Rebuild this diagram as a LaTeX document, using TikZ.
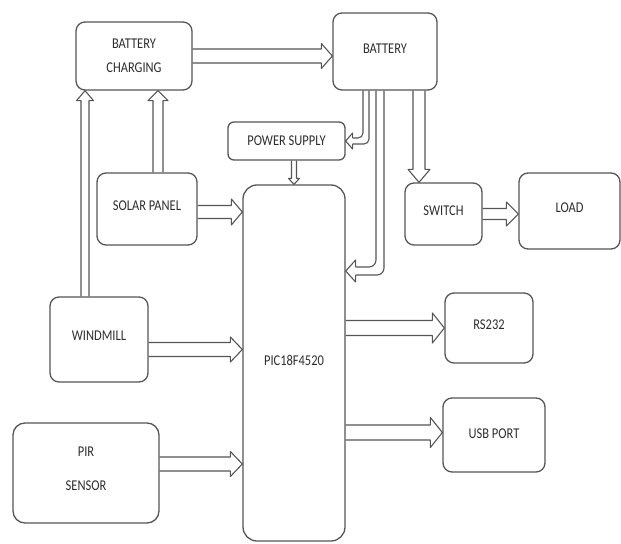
\documentclass[tikz,border=0pt]{standalone}
\usepackage{fontspec}
\setmainfont{Carlito}
\usepackage{graphicx}
\usetikzlibrary{calc}
\definecolor{linegray}{HTML}{555555}
\definecolor{textgray}{HTML}{2E2E2E}
\newcommand{\vs}[2][6bp]{\raisebox{#1}{\scalebox{1}[1.2]{#2}}}
\begin{document}
\begin{tikzpicture}[x=1bp,y=-1bp,
  box/.style={draw=linegray, line width=1.3bp, rounded corners=9bp, inner sep=0pt,
    font=\fontsize{12.5}{15}\selectfont, text=textgray, align=center},
  arr/.style={draw=linegray, line width=1.1bp, line join=round},
  shaftw/.store in=\shaftw, headw/.store in=\headw, headl/.store in=\headl,
  shaftw=5bp, headw=10bp, headl=10bp,
  blk/.style={arr, to path={{let \p1=(\tikztostart), \p2=(\tikztotarget),
      \n1={atan2(\y2-\y1,\x2-\x1)}, \n2={veclen(\x2-\x1,\y2-\y1)} in
      [shift={(\p1)}, rotate=\n1]
      (0pt,\shaftw) -- ({\n2*1pt-\headl},\shaftw) -- ({\n2*1pt-\headl},\headw)
      -- ({\n2*1pt},0pt) -- ({\n2*1pt-\headl},-\headw) -- ({\n2*1pt-\headl},-\shaftw)
      -- (0pt,-\shaftw)}}},
]
\useasboundingbox (0,0) rectangle (621,544);
\node[box, minimum width=116bp, minimum height=68bp] (bc) at (134,56) {\vs[0bp]{BATTERY}\\[9bp]\vs[0bp]{CHARGING}};
\node[box, minimum width=104bp, minimum height=77bp] (bat) at (385,51.5) {\vs{BATTERY}};
\node[box, minimum width=117bp, minimum height=38bp, rounded corners=6bp] (ps) at (286.5,141) {\vs[0bp]{POWER SUPPLY}};
\node[box, minimum width=100bp, minimum height=72bp] (sol) at (147,209) {\vs[7bp]{SOLAR PANEL}};
\node[box, minimum width=102bp, minimum height=356bp, rounded corners=14bp] (pic) at (294,363) {\vs[5bp]{PIC18F4520}};
\node[box, minimum width=77bp, minimum height=62bp] (sw) at (443.5,214) {\vs{SWITCH}};
\node[box, minimum width=101bp, minimum height=76bp] (load) at (569.5,211) {\vs{LOAD}};
\node[box, minimum width=88bp, minimum height=70bp] (rs) at (489,328) {\vs{RS232}};
\node[box, minimum width=102bp, minimum height=74bp] (usb) at (494,435) {\vs[3bp]{USB PORT}};
\node[box, minimum width=98bp, minimum height=85bp] (wind) at (99,339.5) {\vs[7bp]{WINDMILL}};
\node[box, minimum width=146bp, minimum height=100bp, rounded corners=12bp] (pir) at (86,473) {\vs[8bp]{PIR}\\[15bp]\vs[8bp]{SENSOR}};

% anchor points of the connectors
\coordinate (solUp) at ($(sol.north)+(11,0)$);
\coordinate (windUp) at ($(wind.north)+(-14,0)$);
\coordinate (batSw) at ($(bat.south)+(34,0)$);
\coordinate (solOut) at ($(sol.east)+(0,3)$);
\coordinate (windOut) at ($(wind.east)+(0,10)$);
\coordinate (pirOut) at ($(pir.east)+(0,-9)$);
\coordinate (usbIn) at ($(usb.west)+(0,-2.5)$);
\coordinate (picIn) at ($(pic.east)+(0,-92)$);

% straight block arrows
\draw[blk, shaftw=7bp, headw=12.5bp, headl=11bp] (bc.east) to (bc.east -| bat.west);
\draw[blk, shaftw=5bp, headw=10bp, headl=10bp] (solUp) to (solUp |- bc.south);
\draw[blk, shaftw=4bp, headw=8.5bp, headl=10bp] (windUp) to (windUp |- bc.south);
\draw[blk, shaftw=6.5bp, headw=13bp, headl=11bp] (solOut) to (solOut -| pic.west);
\draw[blk, shaftw=2.5bp, headw=5.5bp, headl=6bp] (ps.south -| pic.north) to (pic.north);
\draw[blk, shaftw=6bp, headw=11bp, headl=13bp] (batSw) to (batSw |- sw.north);
\draw[blk, shaftw=5.5bp, headw=12bp, headl=12bp] (sw.east) to (sw.east -| load.west);
\draw[blk, shaftw=7.5bp, headw=15bp, headl=12bp] (pic.east |- rs.west) to (rs.west);
\draw[blk, shaftw=7.5bp, headw=15bp, headl=12bp] (pic.east |- usbIn) to (usbIn);
\draw[blk, shaftw=7bp, headw=12.5bp, headl=12bp] (windOut) to (windOut -| pic.west);
\draw[blk, shaftw=7bp, headw=12.5bp, headl=12bp] (pirOut) to (pirOut -| pic.west);

% bent arrow: battery -> power supply
\draw[arr, rounded corners=5bp] ($(bat.south)+(-16,0)$) |- ($(ps.east)+(7,3)$);
\draw[arr] ($(ps.east)+(7,3)$) -- ($(ps.east)+(7,8)$) -- (ps.east) -- ($(ps.east)+(7,-8)$) -- ($(ps.east)+(7,-3)$);
\draw[arr, rounded corners=5bp] ($(ps.east)+(7,-3)$) -| ($(bat.south)+(-22,0)$);

% bent arrow: battery -> PIC
\draw[arr, rounded corners=7bp] ($(bat.south)+(-1,0)$) |- ($(picIn)+(10,4)$);
\draw[arr] ($(picIn)+(10,4)$) -- ($(picIn)+(10,11)$) -- (picIn) -- ($(picIn)+(10,-11)$) -- ($(picIn)+(10,-4)$);
\draw[arr, rounded corners=7bp] ($(picIn)+(10,-4)$) -| ($(bat.south)+(-9,0)$);
\end{tikzpicture}
\end{document}
